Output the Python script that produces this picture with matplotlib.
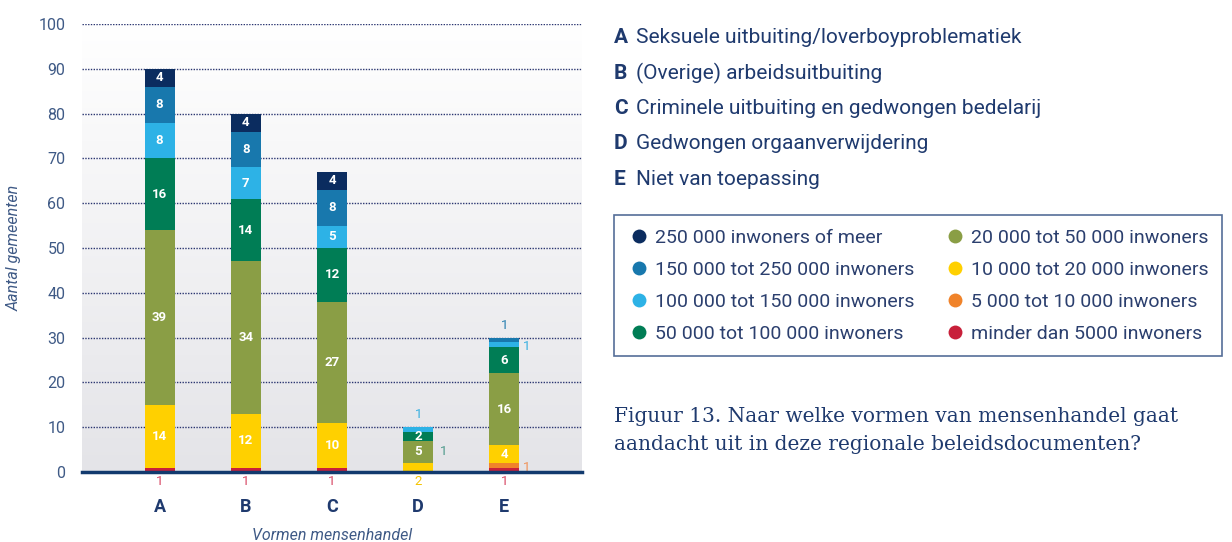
import numpy as np
import matplotlib.pyplot as plt
from matplotlib.lines import Line2D
from matplotlib.colors import LinearSegmentedColormap

# Data
categories = ["A", "B", "C", "D", "E"]
series_names = [
    "minder dan 5000 inwoners",
    "5 000 tot 10 000 inwoners",
    "10 000 tot 20 000 inwoners",
    "20 000 tot 50 000 inwoners",
    "50 000 tot 100 000 inwoners",
    "100 000 tot 150 000 inwoners",
    "150 000 tot 250 000 inwoners",
    "250 000 inwoners of meer",
]
lt5 = [1, 1, 1, 0, 1]
k5 = [0, 0, 0, 0, 1]
k10 = [14, 12, 10, 2, 4]
k20 = [39, 34, 27, 5, 16]
k50 = [16, 14, 12, 2, 6]
k100 = [8, 7, 5, 1, 1]
k150 = [8, 8, 8, 0, 1]
k250 = [4, 4, 4, 0, 0]
values = [lt5, k5, k10, k20, k50, k100, k150, k250]

colors = ["#c8203a", "#f0832a", "#ffd000", "#8a9e45",
          "#007d55", "#2db2e6", "#1878ad", "#0b2c5f"]
# label colours for values shown outside the bars
out_colors = ["#d84a66", "#f0935a", "#f5c400", "#8a9e45",
              "#4f9a8c", "#3ab0e0", "#2a80b0", "#0b2c5f"]

# (bar, series, where) for small segments labelled outside the bar
outside = [(0, 0, "below"), (1, 0, "below"), (2, 0, "below"),
           (3, 2, "below"), (4, 0, "below"),
           (3, 5, "above"), (4, 6, "above"),
           (4, 1, "right"), (4, 5, "right")]
# extra "1" printed beside the D bar
extra_value = "1"

legend_text = [
    ("A", "Seksuele uitbuiting/loverboyproblematiek"),
    ("B", "(Overige) arbeidsuitbuiting"),
    ("C", "Criminele uitbuiting en gedwongen bedelarij"),
    ("D", "Gedwongen orgaanverwijdering"),
    ("E", "Niet van toepassing"),
]
caption = "Figuur 13. Naar welke vormen van mensenhandel gaat\naandacht uit in deze regionale beleidsdocumenten?"

navy = "#1f3a6e"
tickc = "#3f5a86"
plt.rcParams["font.family"] = ["Roboto", "DejaVu Sans"]

fig = plt.figure(figsize=(12.32, 5.42), dpi=100)
ax = fig.add_axes([82 / 1232, 1 - 472 / 542, 500 / 1232, 448 / 542])

x = np.arange(len(categories))
ax.set_xlim(-0.9, 4.9)
ax.set_ylim(0, 100)

# background gradient
grad = np.linspace(0, 1, 256).reshape(-1, 1)
cmap = LinearSegmentedColormap.from_list("bg", ["#e4e4e8", "#ffffff"])
ax.imshow(grad, extent=(-0.9, 4.9, 0, 100), origin="lower", aspect="auto",
          cmap=cmap, zorder=0)

ax.set_yticks(range(0, 101, 10))
for yv in range(10, 101, 10):
    ax.axhline(yv, color="#2a3570", linestyle=(0, (1, 1)), linewidth=1.0, zorder=1)

bottom = np.zeros(len(categories))
width = 0.35
for si, vals in enumerate(values):
    ax.bar(x, vals, width, bottom=bottom, color=colors[si], zorder=2,
           edgecolor="none")
    for bi, v in enumerate(vals):
        if v >= 2 and not (bi == 3 and si == 2):
            ax.text(x[bi], bottom[bi] + v / 2, str(v), ha="center", va="center",
                    color="white", fontsize=9.5, fontweight="bold", zorder=3)
    bottom += np.array(vals)

for bi, si, where in outside:
    v = values[si][bi]
    lo = sum(values[k][bi] for k in range(si))
    if where == "below":
        ax.text(x[bi], -2.2, str(v), ha="center", va="center", fontsize=9.5,
                color=out_colors[si], clip_on=False)
    elif where == "above":
        ax.text(x[bi], bottom[bi] + 2.8, str(v), ha="center", va="center",
                fontsize=9.5, color=out_colors[si])
    else:
        ax.text(x[bi] + width / 2 + 0.08, lo + v / 2 - 0.4, str(v), ha="center",
                va="center", fontsize=9.5, color=out_colors[si])
ax.text(x[3] + width / 2 + 0.12, 4.5, extra_value, ha="center", va="center",
        fontsize=9.5, color=out_colors[4])

for s in ["top", "right", "left"]:
    ax.spines[s].set_visible(False)
ax.spines["bottom"].set_color("#123a6e")
ax.spines["bottom"].set_linewidth(2.5)
ax.spines["bottom"].set_zorder(4)

ax.tick_params(axis="y", length=0, labelsize=11.5, labelcolor=tickc, pad=12)
ax.set_xticks(x)
ax.set_xticklabels(categories, fontsize=13, fontweight="bold", color=navy)
ax.tick_params(axis="x", length=0, pad=19)
ax.set_xlabel("Vormen mensenhandel", fontsize=11.5, style="italic", color=tickc,
              labelpad=8)
ax.set_ylabel("Aantal gemeenten", fontsize=11.5, style="italic", color=tickc,
              labelpad=12)

# legend of categories
for i, (letter, txt) in enumerate(legend_text):
    yy = 1 - (38 + i * 35.3) / 542
    fig.text(614 / 1232, yy, letter, fontsize=15, fontweight="bold",
             color=navy, va="center")
    fig.text(636 / 1232, yy, txt, fontsize=15, color=navy, va="center")

# series legend
handles = [Line2D([], [], marker="o", linestyle="none", markersize=10,
                  markerfacecolor=colors[i], markeredgecolor="none")
           for i in range(7, -1, -1)]
labels = [series_names[i] for i in range(7, -1, -1)]
leg = fig.legend(handles, labels, ncol=2, loc="upper left",
                 bbox_to_anchor=(614 / 1232, 1 - 215 / 542), borderaxespad=0,
                 fontsize=14, frameon=True, fancybox=False,
                 handletextpad=0.2, columnspacing=1.5, labelspacing=0.72,
                 borderpad=0.7, handlelength=1.2, labelcolor="#2b3f6e")
leg.get_frame().set_edgecolor("#2a4a7e")
leg.get_frame().set_linewidth(1.2)

fig.text(614 / 1232, 1 - 431 / 542, caption, fontsize=14.5, color="#1f3a6e",
         family=["DejaVu Serif"], va="center", linespacing=1.6)

fig.savefig("out.png", dpi=100)
